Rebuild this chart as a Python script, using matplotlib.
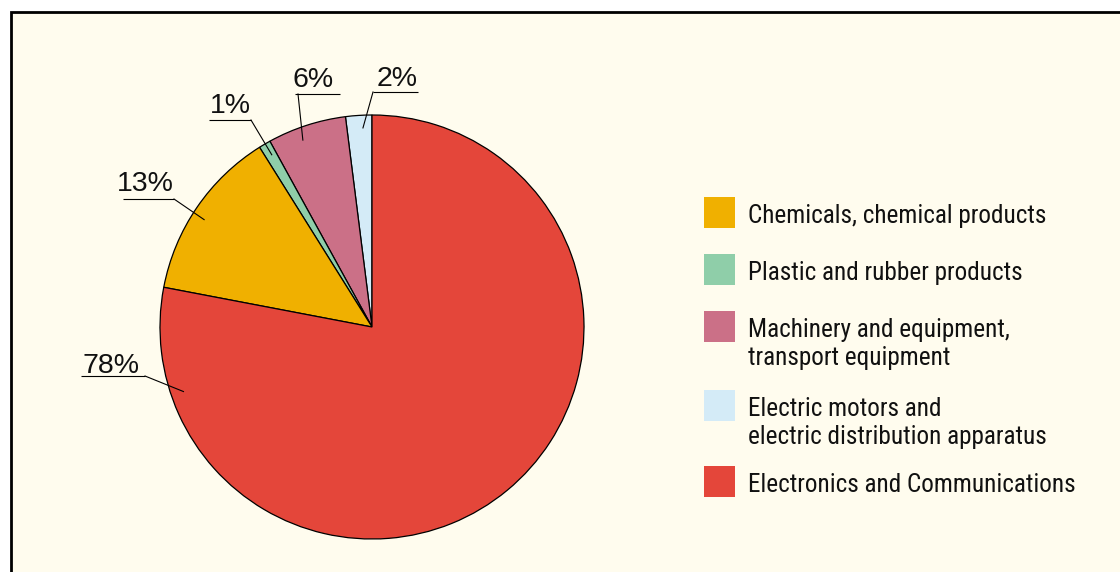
import matplotlib
matplotlib.use('Agg')
import matplotlib.pyplot as plt
import numpy as np
from matplotlib import font_manager
from matplotlib.patches import Rectangle

W, H = 1120, 572

# data (legend order)
categories = ['Chemicals, chemical products',
              'Plastic and rubber products',
              'Machinery and equipment,\ntransport equipment',
              'Electric motors and\nelectric distribution apparatus',
              'Electronics and Communications']
shares = [13.1, 0.9, 6.0, 2.0, 78.0]
colors = ['#F0B000', '#8FCEA9', '#CB7087', '#D4EBF7', '#E4463A']
# order of slices, counter-clockwise from 12 o'clock
pie_order = [3, 2, 1, 0, 4]

BG = '#FFFCEE'
installed = {f.name for f in font_manager.fontManager.ttflist}
# legend uses a condensed face when one is around
LEG_FONT, LEG_SIZE = 'Liberation Sans', 16
for name, size in [('Liberation Sans Narrow', 19.0), ('Roboto Condensed', 18.2)]:
    if name in installed:
        LEG_FONT, LEG_SIZE = name, size
        break
PCT_FONT = 'Liberation Sans'


def Y(y):
    # layout below is measured top-down in pixels
    return H - y


fig = plt.figure(figsize=(W / 100, H / 100), dpi=100, facecolor='white')
ax = fig.add_axes([0, 0, 1, 1])
ax.set_axis_off()

# cream panel with black frame (top and left edges visible)
ax.add_patch(Rectangle((11, -20), W + 40, Y(12) + 20, facecolor=BG,
                       edgecolor='black', lw=2.0, zorder=0))

cx, cy, R = 372, Y(327), 212
vals = [shares[i] for i in pie_order]
wedges, _ = ax.pie(vals, colors=[colors[i] for i in pie_order],
                   startangle=90, counterclock=True,
                   center=(cx, cy), radius=R,
                   wedgeprops=dict(edgecolor='black', linewidth=0.9))
ax.set_xlim(0, W)
ax.set_ylim(0, H)
ax.set_aspect('equal')

# percentage labels: text left/baseline, underline x0-x1 at y, kink x,
# anchor angle (deg) inside the slice
label_layout = {
    4: dict(tx=82, ty=373, x0=81, x1=145, uy=376, kx=145, ang=198.9),
    0: dict(tx=117, ty=191, x0=123, x1=174, uy=199, kx=174, ang=147.4),
    1: dict(tx=210, ty=113, x0=209, x1=251, uy=120, kx=251, ang=120.2),
    2: dict(tx=293, ty=87, x0=295, x1=340, uy=94, kx=298, ang=110.3),
    3: dict(tx=377, ty=86, x0=373, x1=418, uy=92, kx=373, ang=92.6),
}
for i, lay in label_layout.items():
    ax.text(lay['tx'], Y(lay['ty']), f"{shares[i]:.0f}%", family=PCT_FONT,
            fontsize=20.5, ha='left', va='baseline', color='#111111')
    ax.plot([lay['x0'], lay['x1']], [Y(lay['uy'])] * 2, color='black',
            lw=0.8, solid_capstyle='butt')
    a = np.deg2rad(lay['ang'])
    ex, ey = cx + 0.94 * R * np.cos(a), cy + 0.94 * R * np.sin(a)
    ax.plot([lay['kx'], ex], [Y(lay['uy']), ey], color='black', lw=0.8)

# legend drawn as squares + text
sq_x, sq = 704, 31
sq_tops = [197, 254, 311, 390, 466]
for i, top in enumerate(sq_tops):
    ax.add_patch(Rectangle((sq_x, Y(top + sq)), sq, sq, facecolor=colors[i],
                           edgecolor='none'))
    for k, line in enumerate(categories[i].split('\n')):
        ax.text(748, Y(top + 26 + 28 * k), line, family=LEG_FONT,
                fontsize=LEG_SIZE, ha='left', va='baseline', color='#111111')

fig.savefig('out.png', dpi=100, facecolor='white')
